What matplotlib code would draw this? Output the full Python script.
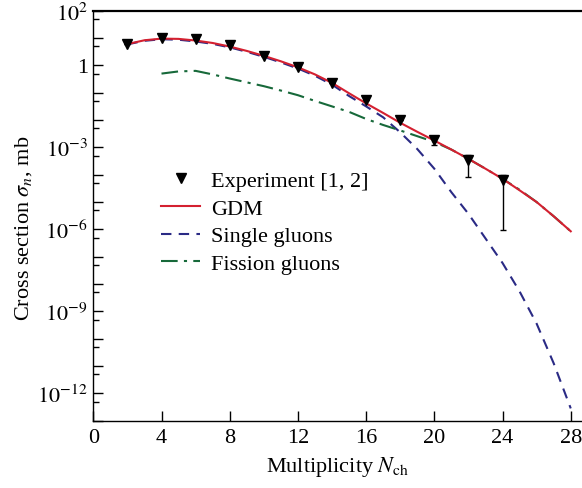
import numpy as np
import matplotlib
matplotlib.use("Agg")
import matplotlib.pyplot as plt
from matplotlib.ticker import FixedLocator, FixedFormatter, NullFormatter

plt.rcParams['font.family'] = ['Liberation Serif', 'DejaVu Serif']
plt.rcParams['mathtext.fontset'] = 'stix'

# Experimental data (log10 of cross section, mb)
exp_n = [2, 4, 6, 8, 10, 12, 14, 16, 18, 20, 22, 24]
exp_log = [0.80, 1.02, 0.95, 0.756, 0.35, -0.05, -0.63, -1.25, -2.01, -2.745, -3.45, -4.19]
exp_log_hi = [0.80, 1.02, 0.95, 0.756, 0.35, -0.05, -0.63, -1.25, -2.01, -2.62, -3.26, -4.00]
exp_log_lo = [0.80, 1.02, 0.95, 0.756, 0.35, -0.05, -0.63, -1.25, -2.01, -2.93, -4.07, -6.01]

# GDM curve
gdm_n = list(range(2, 29))
gdm_log = [0.78, 0.92, 0.98, 0.97, 0.91, 0.82, 0.69, 0.53, 0.35, 0.15, -0.07, -0.33,
           -0.64, -1.02, -1.39, -1.74, -2.10, -2.43, -2.75, -3.08, -3.42, -3.78,
           -4.15, -4.57, -5.00, -5.52, -6.07]

# Single gluons
single_n = list(range(2, 29))
single_log = [0.77, 0.90, 0.957, 0.94, 0.875, 0.788, 0.66, 0.498, 0.314, 0.11, -0.113, -0.379,
              -0.705, -1.12, -1.50, -1.90, -2.45, -3.06, -3.78, -4.64, -5.43, -6.33,
              -7.23, -8.27, -9.45, -10.90, -12.55]

# Fission gluons
fission_n = list(range(4, 29))
fission_log = [-0.30, -0.22, -0.20, -0.33, -0.48, -0.62, -0.76, -0.92, -1.09, -1.30,
               -1.50, -1.70, -1.96, -2.18, -2.38, -2.59, -2.80, -3.08, -3.42, -3.78,
               -4.15, -4.55, -5.00, -5.52, -6.07]

x_ticks = [0, 4, 8, 12, 16, 20, 24, 28]
y_label_decades = [2, 0, -3, -6, -9, -12]

def p10(v):
    return np.power(10.0, np.array(v, dtype=float))

fig = plt.figure(figsize=(5.82, 4.89), dpi=100)
ax = fig.add_axes([0.1603, 0.1376, 0.8397, 0.8384])

ax.plot(gdm_n, p10(gdm_log), color='#d42030', lw=1.5, label='GDM', zorder=4)
ax.plot(single_n, p10(single_log), color='#2a2a85', lw=1.5, ls=(0, (5, 3.5)),
        label='Single gluons', zorder=3)
ax.plot(fission_n, p10(fission_log), color='#17693a', lw=1.5, ls=(0, (8, 3, 1.5, 3)),
        label='Fission gluons', zorder=3)

y = p10(exp_log)
yerr = np.vstack([y - p10(exp_log_lo), p10(exp_log_hi) - y])
ax.errorbar(exp_n, y, yerr=yerr, fmt='none', ecolor='black', elinewidth=1.0,
            capsize=2, capthick=1.0, zorder=5)
ax.plot(exp_n, y, ls='none', marker='v', ms=6.5, color='black',
        label='Experiment [1, 2]', zorder=6)

ax.set_yscale('log')
ax.set_xlim(0, 28.66)
ax.set_ylim(1e-13, 1e2)

decades = list(range(-13, 3))
maj = [10.0 ** d for d in decades]
labels = []
for d in decades:
    if d in y_label_decades:
        labels.append('1' if d == 0 else r'$10^{%d}$' % d)
    else:
        labels.append('')
ax.yaxis.set_major_locator(FixedLocator(maj))
ax.yaxis.set_major_formatter(FixedFormatter(labels))
ax.yaxis.set_minor_locator(FixedLocator([5 * 10.0 ** (d - 1) for d in decades if d > -13]))
ax.yaxis.set_minor_formatter(NullFormatter())

ax.set_xticks(x_ticks)
ax.set_xticklabels([str(t) for t in x_ticks])

ax.tick_params(axis='both', which='major', direction='in', length=7, width=1.0,
               labelsize=16)
ax.tick_params(axis='y', which='minor', direction='in', length=4.5, width=1.0)
ax.tick_params(axis='x', which='major', pad=5)
ax.tick_params(axis='y', which='major', pad=4)

ax.spines['right'].set_visible(False)
ax.spines['top'].set_linewidth(1.6)
ax.spines['left'].set_linewidth(1.0)
ax.spines['bottom'].set_linewidth(1.0)

ax.set_xlabel(r'Multiplicity $N_{\rm ch}$', fontsize=16, labelpad=5)
ax.set_ylabel(r'Cross section $\sigma_n$, mb', fontsize=16)
ax.yaxis.set_label_coords(-0.122, 0.472)

h, l = ax.get_legend_handles_labels()
order = [3, 0, 1, 2]
ax.legend([h[i] for i in order], [l[i] for i in order], loc='upper left',
          bbox_to_anchor=(0.107, 0.648), frameon=False, fontsize=16,
          handlelength=1.75, handletextpad=0.5, labelspacing=0.32, borderpad=0.2)

fig.savefig('out.png', dpi=100)
